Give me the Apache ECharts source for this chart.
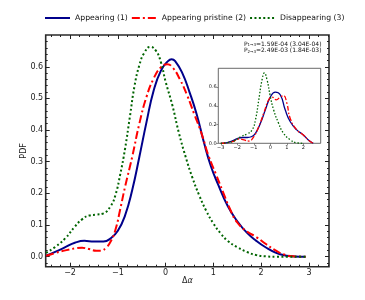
<!DOCTYPE html>
<html><head><meta charset="utf-8">
<script src="https://cdn.jsdelivr.net/npm/echarts@6/dist/echarts.min.js"></script>
<style>html,body{margin:0;padding:0;background:#fff}#c{width:365px;height:300px}</style>
</head><body><div id="c"></div>
<script>
// ---------- data ----------
const seriesNames = ['Appearing (1)', 'Appearing pristine (2)', 'Disappearing (3)'];

const blueX = [-2.5,-2.3,-2.1,-1.9,-1.7,-1.5,-1.3,-1.15,-1.0,-0.85,-0.7,-0.55,-0.4,-0.25,-0.1,0.05,0.125,0.2,0.35,0.5,0.65,0.8,0.95,1.1,1.3,1.5,1.7,1.9,2.1,2.3,2.5,2.7,2.93];
const blueY = [0.003,0.016,0.030,0.044,0.050,0.048,0.048,0.058,0.082,0.13,0.21,0.315,0.425,0.525,0.587,0.618,0.624,0.618,0.58,0.52,0.45,0.362,0.285,0.228,0.16,0.112,0.076,0.05,0.029,0.013,0.004,0.001,0.0];

const redX = [-2.5,-2.3,-2.1,-1.9,-1.75,-1.6,-1.45,-1.35,-1.25,-1.15,-1.05,-0.95,-0.85,-0.7,-0.55,-0.4,-0.25,-0.1,0.035,0.15,0.3,0.45,0.6,0.75,0.9,1.05,1.2,1.35,1.5,1.7,1.9,2.1,2.3,2.5,2.7,2.93];
const redY = [0.003,0.012,0.020,0.026,0.028,0.024,0.019,0.019,0.028,0.048,0.085,0.15,0.22,0.315,0.42,0.505,0.563,0.598,0.608,0.597,0.56,0.51,0.45,0.39,0.318,0.262,0.205,0.15,0.108,0.08,0.062,0.04,0.02,0.006,0.001,0.0];

const greenX = [-2.5,-2.3,-2.1,-1.9,-1.75,-1.6,-1.45,-1.3,-1.15,-1.05,-0.95,-0.85,-0.75,-0.65,-0.55,-0.45,-0.32,-0.2,-0.1,0.0,0.14,0.28,0.42,0.56,0.7,0.85,1.0,1.15,1.3,1.5,1.7,1.9,2.1,2.3,2.93];
const greenY = [0.012,0.032,0.058,0.095,0.118,0.130,0.133,0.137,0.16,0.195,0.26,0.34,0.44,0.54,0.605,0.643,0.663,0.65,0.615,0.553,0.479,0.39,0.315,0.25,0.195,0.145,0.105,0.074,0.05,0.03,0.015,0.005,0.001,0.0,0.0];

const insetBlueX = [-3.0,-2.6,-2.3,-2.0,-1.7,-1.4,-1.15,-0.9,-0.6,-0.3,0.0,0.3,0.6,0.9,1.2,1.6,2.0,2.3,2.6];
const insetBlueY = [0,0.008,0.025,0.05,0.062,0.062,0.07,0.107,0.214,0.357,0.493,0.546,0.518,0.357,0.232,0.143,0.089,0.036,0.0];

const insetRedX = [-3.0,-2.6,-2.2,-1.9,-1.6,-1.3,-1.0,-0.7,-0.4,-0.1,0.1,0.36,0.6,0.8,1.0,1.2,1.6,2.0,2.3,2.6];
const insetRedY = [0,0.006,0.024,0.046,0.036,0.024,0.071,0.178,0.321,0.464,0.493,0.464,0.493,0.507,0.428,0.268,0.143,0.089,0.036,0];

const insetGreenX = [-3.0,-2.6,-2.2,-1.8,-1.4,-1.1,-0.9,-0.7,-0.5,-0.36,-0.2,0.0,0.2,0.5,0.8,1.2,1.6,2.0];
const insetGreenY = [0,0.008,0.024,0.071,0.1,0.143,0.25,0.464,0.678,0.75,0.678,0.5,0.357,0.214,0.107,0.039,0.005,0];

const xTicks = [-2,-1,0,1,2,3];
const yTicks = [0,0.1,0.2,0.3,0.4,0.5,0.6];
const insetXTicks = [-3,-2,-1,0,1,2];
const insetYTicks = [0,0.2,0.4,0.6];
const annotations = [
  {sub: '1\u21923', val: '1.59E-04', alt: '3.04E-04'},
  {sub: '2\u21923', val: '2.49E-03', alt: '1.84E-03'}
];

// ---------- helpers ----------
const FONT = 'DejaVu Sans';
const pairs = (xs, ys) => xs.map((x, i) => [x, ys[i]]);
const fmt = (v, d) => (v < 0 ? '\u2212' : '') + (d != null ? Math.abs(v).toFixed(d) : String(Math.abs(v)));
const near = (a, list) => list.some(b => Math.abs(a - b) < 1e-9);
function minorList(from, to, step, majors) {
  const out = [];
  const n = Math.round((to - from) / step);
  for (let i = 0; i <= n; i++) {
    const v = +(from + i * step).toFixed(6);
    if (!near(v, majors)) out.push(v);
  }
  return out;
}
const xMinor = minorList(-2.4, 3.4, 0.2, xTicks);
const yMinor = minorList(-0.02, 0.68, 0.02, yTicks);

const XMIN = -2.51, XMAX = 3.42, YMIN = -0.0316, YMAX = 0.7003;
const TICK = {color: '#222', width: 1};

function mainX(pos, ticks, len, withLabels) {
  const a = {
    type: 'value', gridIndex: 0, position: pos, min: XMIN, max: XMAX,
    axisLine: {show: false, onZero: false}, splitLine: {show: false},
    axisTick: {show: true, inside: true, length: len, customValues: ticks, lineStyle: TICK},
    axisLabel: {show: false}
  };
  if (withLabels) {
    a.axisLabel = {show: true, customValues: xTicks, formatter: v => fmt(v), fontSize: 8, fontFamily: FONT, color: '#222', margin: 2.5};
    a.name = '{n|\u0394}{i|\u03b1}';
    a.nameLocation = 'middle';
    a.nameGap = 10.5;
    a.nameMoveOverlap = false;
    a.nameTextStyle = {fontFamily: FONT, fontSize: 8, color: '#222', rich: {n: {fontSize: 8, fontFamily: FONT, color: '#222'}, i: {fontSize: 8, fontFamily: FONT, fontStyle: 'italic', color: '#222'}}};
  }
  return a;
}
function mainY(pos, ticks, len, withLabels) {
  const a = {
    type: 'value', gridIndex: 0, position: pos, min: YMIN, max: YMAX,
    axisLine: {show: false, onZero: false}, splitLine: {show: false},
    axisTick: {show: true, inside: true, length: len, customValues: ticks, lineStyle: TICK},
    axisLabel: {show: false}
  };
  if (withLabels) {
    a.axisLabel = {show: true, customValues: yTicks, formatter: v => fmt(v, 1), fontSize: 8, fontFamily: FONT, color: '#222', margin: 2.5};
    a.name = 'PDF';
    a.nameLocation = 'middle';
    a.nameGap = 18;
    a.nameMoveOverlap = false;
    a.nameTextStyle = {fontFamily: FONT, fontSize: 8, color: '#222'};
  }
  return a;
}

const colors = ['#00008B', '#FF0000', '#006400'];
const mainTypes = ['solid', [8, 3, 2, 3], [2, 2.4]];
const insetTypes = ['solid', [5, 2, 1.5, 2], [1.5, 1.8]];
const mainData = [pairs(blueX, blueY), pairs(redX, redY), pairs(greenX, greenY)];
const insetData = [pairs(insetBlueX, insetBlueY), pairs(insetRedX, insetRedY), pairs(insetGreenX, insetGreenY)];

const series = [];
for (let k = 0; k < 3; k++) {
  series.push({
    name: seriesNames[k], type: 'line', xAxisIndex: 0, yAxisIndex: 0,
    data: mainData[k], smooth: 0.5, symbol: 'none', showSymbol: false,
    lineStyle: {color: colors[k], width: 2, type: mainTypes[k], cap: 'butt'},
    itemStyle: {color: colors[k]}, z: 2 + k, animation: false
  });
}
for (let k = 0; k < 3; k++) {
  series.push({
    name: seriesNames[k], type: 'line', xAxisIndex: 4, yAxisIndex: 4,
    data: insetData[k], smooth: 0.5, symbol: 'none', showSymbol: false,
    lineStyle: {color: colors[k], width: 1.3, type: insetTypes[k], cap: 'butt'},
    itemStyle: {color: colors[k]}, z: 6 + k, animation: false
  });
}

const annoGraphics = annotations.map((a, i) => ({
  type: 'text', x: 321.5, y: 44.3 + i * 6.2, z: 100,
  style: {
    text: '{n|P}{s|' + a.sub + '}{n|=' + a.val + ' (' + a.alt + ')}',
    align: 'right', verticalAlign: 'middle',
    rich: {
      n: {fontSize: 6, fontFamily: FONT, fill: '#111'},
      s: {fontSize: 4, fontFamily: FONT, fill: '#111', verticalAlign: 'bottom'}
    }
  }
}));

const option = {
  animation: false,
  backgroundColor: '#fff',
  legend: {
    data: seriesNames, left: 44, top: 14, padding: 0,
    itemWidth: 25, itemHeight: 8, itemGap: 3,
    itemStyle: {opacity: 0},
    textStyle: {fontSize: 7.7, fontFamily: FONT, color: '#111'}
  },
  grid: [
    {left: 45.7, right: 36, top: 35, bottom: 33.3, show: true, borderColor: '#2a2a2a', borderWidth: 1.6, backgroundColor: 'transparent'},
    {left: 218.3, right: 44.3, top: 68.3, bottom: 156.7, show: true, borderColor: '#444', borderWidth: 0.8, backgroundColor: '#fff', z: 5}
  ],
  xAxis: [
    mainX('bottom', xTicks, 4, true),
    mainX('bottom', xMinor, 2, false),
    mainX('top', xTicks, 4, false),
    mainX('top', xMinor, 2, false),
    {
      type: 'value', gridIndex: 1, position: 'bottom', min: -3.15, max: 3.05,
      axisLine: {show: false, onZero: false}, splitLine: {show: false},
      axisTick: {show: true, inside: false, length: 2, customValues: insetXTicks, lineStyle: {color: '#444', width: 0.6}},
      axisLabel: {show: true, customValues: insetXTicks, formatter: v => fmt(v), fontSize: 5, fontFamily: FONT, color: '#222', margin: 1.5}
    }
  ],
  yAxis: [
    mainY('left', yTicks, 4, true),
    mainY('left', yMinor, 2, false),
    mainY('right', yTicks, 4, false),
    mainY('right', yMinor, 2, false),
    {
      type: 'value', gridIndex: 1, position: 'left', min: 0, max: 0.8,
      axisLine: {show: false, onZero: false}, splitLine: {show: false},
      axisTick: {show: true, inside: false, length: 2, customValues: insetYTicks, lineStyle: {color: '#444', width: 0.6}},
      axisLabel: {show: true, customValues: insetYTicks, formatter: v => fmt(v, 1), fontSize: 5, fontFamily: FONT, color: '#222', margin: 1.5}
    }
  ],
  series: series,
  graphic: annoGraphics
};

const chart = echarts.init(document.getElementById('c'), null, {renderer: 'canvas', width: 365, height: 300});
chart.setOption(option);
</script>
</body></html>
